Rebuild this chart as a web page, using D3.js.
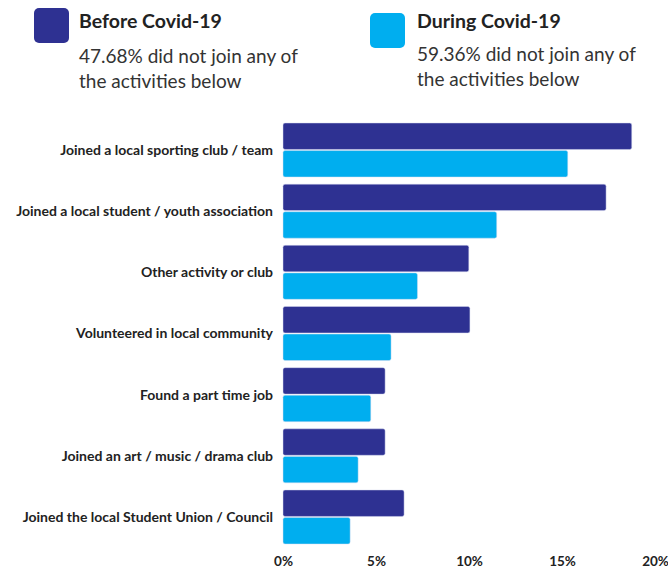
<!DOCTYPE html>
<html>
<head>
<meta charset="utf-8">
<script src="https://cdn.jsdelivr.net/npm/d3@7"></script>
<style>
  body { margin: 0; background: #fff; font-family: Lato, "Open Sans", sans-serif; }
  .axis text { font-family: Lato, sans-serif; font-weight: bold; font-size: 13.5px; fill: #222; }
</style>
</head>
<body>
<div id="chart"></div>
<script>
// categories, top to bottom
var categories = [
  "Joined a local sporting club / team",
  "Joined a local student / youth association",
  "Other activity or club",
  "Volunteered in local community",
  "Found a part time job",
  "Joined an art / music / drama club",
  "Joined the local Student Union / Council"
];
var beforeValues = [18.75, 17.37, 9.99, 10.05, 5.49, 5.49, 6.51];
var duringValues = [15.31, 11.49, 7.23, 5.81, 4.72, 4.04, 3.61];
var seriesNames = ["Before Covid-19", "During Covid-19"];
var seriesNotes = [
  ["47.68% did not join any of", "the activities below"],
  ["59.36% did not join any of", "the activities below"]
];
var tickValues = [0, 5, 10, 15, 20];
var colors = ["#2e3192", "#00aeef"];

var width = 668, height = 569;

var svg = d3.select("#chart").append("svg")
  .attr("width", width)
  .attr("height", height);

// legend
var legendX = [34, 370], legendY = [8, 13];
seriesNames.forEach(function(name, i){
  var g = svg.append("g").attr("transform", "translate(" + legendX[i] + ",0)");
  g.append("rect")
    .attr("y", legendY[i])
    .attr("width", 35).attr("height", 35)
    .attr("rx", 5)
    .attr("fill", colors[i]);
  var tx = 79 - legendX[0] + (i === 1 ? 47 - 45 : 0);
  g.append("text")
    .attr("x", tx).attr("y", 28)
    .attr("font-size", 19.5).attr("font-weight", "bold")
    .attr("fill", "#222")
    .text(name);
  seriesNotes[i].forEach(function(line, j){
    g.append("text")
      .attr("x", tx).attr("y", (i === 0 ? 63 : 61) + j * 25)
      .attr("font-size", 19)
      .attr("fill", "#333")
      .text(line);
  });
});

// scales
var x = d3.scaleLinear().domain([0, 20]).range([283, 655]);
var y = d3.scaleBand().domain(categories).range([123, 544]).paddingInner(0.117).paddingOuter(0);
var sub = d3.scaleBand().domain([0, 1]).range([0, y.bandwidth()]).paddingInner(0.04);

var rows = categories.map(function(c, i){
  return { cat: c, vals: [beforeValues[i], duringValues[i]] };
});

var groups = svg.selectAll(".grp")
  .data(rows)
  .enter().append("g")
  .attr("class", "grp")
  .attr("transform", function(d){ return "translate(0," + y(d.cat) + ")"; });

groups.selectAll("rect")
  .data(function(d){ return d.vals.map(function(v, k){ return { v: v, k: k }; }); })
  .enter().append("rect")
  .attr("x", x(0))
  .attr("y", function(d){ return sub(d.k); })
  .attr("width", function(d){ return x(d.v) - x(0); })
  .attr("height", sub.bandwidth())
  .attr("rx", 2)
  .attr("fill", function(d){ return colors[d.k]; })
  .attr("stroke", "#d8dcf0")
  .attr("stroke-opacity", 0.6)
  .attr("stroke-width", 0.8);

groups.append("text")
  .attr("x", 273)
  .attr("y", y.bandwidth() / 2)
  .attr("dy", "0.35em")
  .attr("text-anchor", "end")
  .attr("font-size", 14)
  .attr("font-weight", "bold")
  .attr("fill", "#222")
  .text(function(d){ return d.cat; });

// x axis
var axis = svg.append("g")
  .attr("class", "axis")
  .attr("transform", "translate(0,553)")
  .call(d3.axisBottom(x).tickValues(tickValues).tickSize(0).tickFormat(function(d){ return d + "%"; }));
axis.select(".domain").remove();
</script>
</body>
</html>
